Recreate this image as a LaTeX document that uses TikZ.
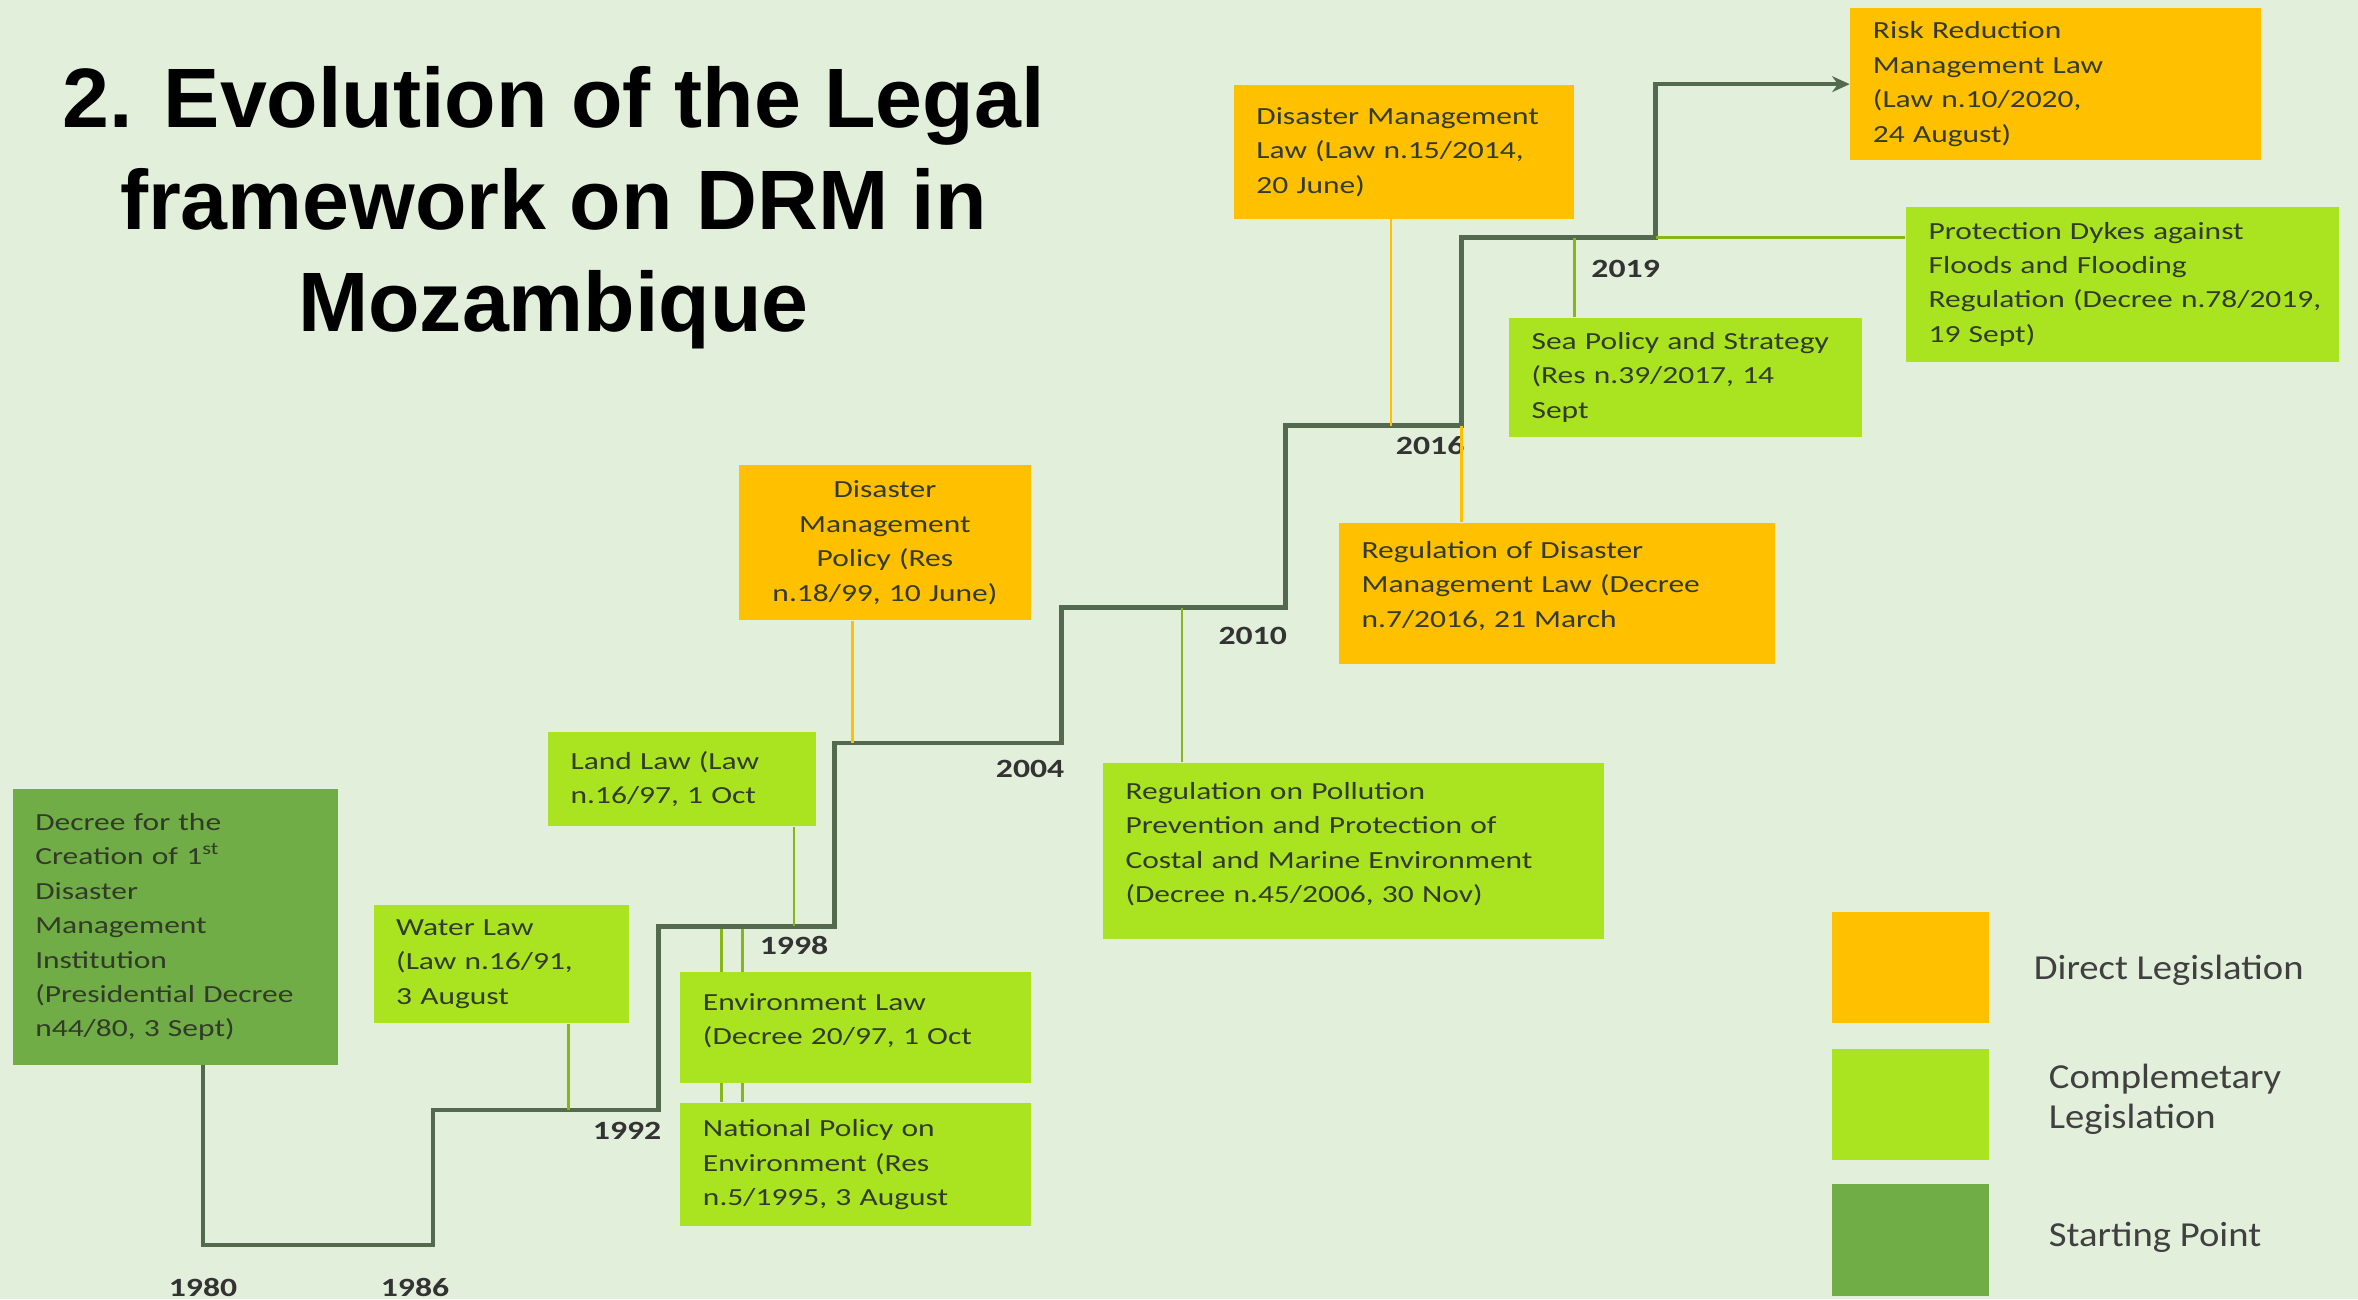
\documentclass[tikz,border=0pt]{standalone}
\usepackage{fontspec}
\usepackage{tikz}
\usetikzlibrary{arrows.meta}
\setmainfont{Carlito}
\newfontfamily\boxfont[FakeStretch=1.28]{Carlito}
\newfontfamily\legfont[FakeStretch=1.1]{Carlito}
\newfontfamily\titlefont{Liberation Sans}
\definecolor{bggreen}{RGB}{226,239,218}
\definecolor{directorange}{RGB}{255,192,0}
\definecolor{complgreen}{RGB}{170,228,32}
\definecolor{startgreen}{RGB}{112,173,71}
\definecolor{linegray}{RGB}{84,106,78}
\definecolor{boxtext}{RGB}{50,58,40}
\newlength{\pxu}
\setlength{\pxu}{0.015038cm}
\newcommand{\lowpad}{\rule[-5pt]{0pt}{5pt}}

\begin{document}
\begin{tikzpicture}[x=0.015038cm,y=-0.015038cm,>={Stealth[length=5pt,width=4.5pt]},
    box/.style 2 args={anchor=north west, inner xsep=15\pxu, inner ysep=0pt,
        text width=#1\pxu, minimum height=#2\pxu, align=left, text=boxtext,
        font=\boxfont\fontsize{7}{9.8}\selectfont},
    dirbox/.style 2 args={box={#1}{#2}, fill=directorange},
    complbox/.style 2 args={box={#1}{#2}, fill=complgreen},
    startbox/.style 2 args={box={#1}{#2}, fill=startgreen},
    year/.style={inner sep=0pt, text=black!80, font=\boxfont\bfseries\fontsize{7.5}{9}\selectfont},
    timeline/.style={linegray, line width=1.3pt},
    dirline/.style={directorange, line width=0.8pt},
    compline/.style={complgreen!80!black, line width=0.8pt},
    legsq/.style={anchor=north west, minimum width=104\pxu, minimum height=74\pxu, inner sep=0pt},
    legtext/.style={anchor=west, align=left, inner sep=0pt, text=black!75,
        font=\legfont\fontsize{10}{11.5}\selectfont}]
    \useasboundingbox (0,0) rectangle (1568,864);
    \fill[bggreen] (0,0) rectangle (1568,864);

    % Title
    \node[anchor=north, align=center, inner sep=0pt,
        font=\titlefont\bfseries\fontsize{24}{29}\selectfont] (title) at (368,44)
        {2. Evolution of the Legal\\ framework on DRM in\\ Mozambique};

    % Legislation boxes
    \node[startbox={186}{184}] (start) at (8,524) {Decree for the\\ Creation of 1\textsuperscript{st}\\ Disaster\\ Management\\ Institution\\ (Presidential Decree\\ n44/80, 3 Sept)};
    \node[complbox={140}{79}] (water) at (248,601) {Water Law\\ (Law n.16/91,\\ 3 August};
    \node[complbox={148}{63}] (land) at (364,486) {Land Law (Law\\ n.16/97, 1 Oct};
    \node[complbox={203}{82}] (natpol) at (452,733) {National Policy on\\ Environment (Res\\ n.5/1995, 3 August};

    % these two pass behind the Environment Law box
    \coordinate (envpta) at (480,616);
    \coordinate (envptb) at (494,616);
    \draw[compline] (envpta) -- (envpta |- natpol.north);
    \draw[compline] (envptb) -- (envptb |- natpol.north);

    \node[complbox={203}{74}] (envlaw) at (452,646) {Environment Law\\ (Decree 20/97, 1 Oct\lowpad};
    \node[dirbox={164}{103}, align=center] (dmpolicy) at (491,309) {Disaster\\ Management\\ Policy (Res\\ n.18/99, 10 June)};
    \node[complbox={303}{117}] (regpoll) at (733,507) {Regulation on Pollution\\ Prevention and Protection of\\ Costal and Marine Environment\\ (Decree n.45/2006, 30 Nov)\lowpad};
    \node[dirbox={260}{94}] (regdml) at (890,347) {Regulation of Disaster\\ Management Law (Decree\\ n.7/2016, 21 March\lowpad};
    \node[dirbox={196}{89}] (dmlaw) at (820,56) {\mbox{Disaster Management}\\ Law (Law n.15/2014,\\ 20 June)};
    \node[complbox={205}{79}] (seapol) at (1003,211) {\mbox{Sea Policy and Strategy}\\ (Res n.39/2017, 14\\ Sept};
    \node[dirbox={243}{101}] (risklaw) at (1230,5) {Risk Reduction\\ Management Law\\ (Law n.10/2020,\\ 24 August)};
    \node[complbox={258}{103}] (dykes) at (1267,137) {Protection Dykes against\\ Floods and Flooding\\ \mbox{Regulation (Decree n.78/2019,}\\ 19 Sept)};

    % Timeline
    \coordinate (t0) at (135,708);
    \coordinate (r1986) at (288,828);
    \coordinate (r1992) at (438,738);
    \coordinate (r1998) at (555,616);
    \coordinate (r2004) at (706,494);
    \coordinate (r2010) at (855,404);
    \coordinate (r2016) at (972,283);
    \coordinate (r2019) at (1101,158);
    \draw[timeline,->] (t0) |- (r1986) |- (r1992) |- (r1998) |- (r2004)
        |- (r2010) |- (r2016) |- (r2019) |- (risklaw.west);

    % Years
    \foreach \yr/\xx/\yy in {1980/135/856, 1986/276/856, 1992/417/752, 1998/528/629,
        2004/685/511, 2010/833/423, 2016/951/296, 2019/1081/179}
        \node[year] (y\yr) at (\xx,\yy) {\yr};

    % Links to the timeline
    \coordinate (waterpt) at (378,738);
    \coordinate (landpt) at (528,616);
    \coordinate (dmppt) at (567,494);
    \coordinate (pollpt) at (786,404);
    \coordinate (dmlpt) at (925,283);
    \coordinate (seapt) at (1047,158);
    \draw[compline] (waterpt) -- (waterpt |- water.south);
    \draw[compline] (landpt) -- (landpt |- land.south);
    \draw[dirline] (dmppt) -- (dmppt |- dmpolicy.south);
    \draw[compline] (pollpt) -- (pollpt |- regpoll.north);
    \draw[dirline] (dmlpt) -- (dmlpt |- dmlaw.south);
    \draw[dirline] (r2016) -- (r2016 |- regdml.north);
    \draw[compline] (seapt) -- (seapt |- seapol.north);
    \draw[compline] (r2019) -- (r2019 -| dykes.west);

    % Legend
    \node[legsq, fill=directorange] (keydirect) at (1218,606) {};
    \node[legsq, fill=complgreen] (keycompl) at (1218,697) {};
    \node[legsq, fill=startgreen] (keystart) at (1218,787) {};
    \node[legtext] (txtdirect) at (1352,645) {Direct Legislation};
    \node[legtext] (txtcompl) at (1362,731) {Complemetary\\ Legislation};
    \node[legtext] (txtstart) at (1362,823) {Starting Point};
\end{tikzpicture}
\end{document}
